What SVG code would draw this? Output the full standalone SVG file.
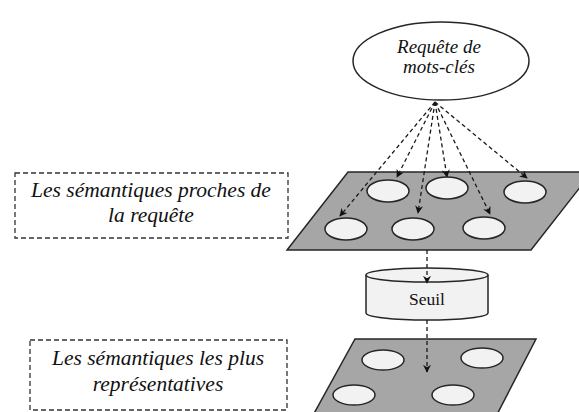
<svg xmlns="http://www.w3.org/2000/svg" width="579" height="412" viewBox="0 0 579 412">
<defs>
<style>
.plane{fill:#a6a6a6;stroke:#262626;stroke-width:1.5}
.spot{fill:#f2f2f2;stroke:#262626;stroke-width:1.5}
.lab{fill:#fff;stroke:#333;stroke-width:1.3;stroke-dasharray:5,3}
.conn{fill:none;stroke:#1a1a1a;stroke-width:1.3;stroke-dasharray:4,3}
.it{font-family:'Liberation Serif','Times New Roman','DejaVu Serif',serif;font-style:italic;fill:#111;text-anchor:middle}
.rg{font-family:'Liberation Serif','Times New Roman','DejaVu Serif',serif;fill:#111;text-anchor:middle}
</style>
<marker id="ah" viewBox="0 0 10 10" refX="9" refY="5" markerWidth="8" markerHeight="8" markerUnits="userSpaceOnUse" orient="auto">
<path d="M0,0 L10,5 L0,10 L3,5 z" fill="#111"/>
</marker>
</defs>
<rect width="579" height="412" fill="#fff"/>

<g id="query">
<ellipse cx="441" cy="61" rx="88" ry="39" fill="#fff" stroke="#262626" stroke-width="1.5"/>
<text class="it" x="439" y="53" font-size="19" font-family="Liberation Serif, serif">Requête de</text>
<text class="it" x="439" y="73" font-size="19" font-family="Liberation Serif, serif">mots-clés</text>
</g>

<g id="label-proches">
<rect class="lab" x="15" y="173" width="273" height="65"/>
<text class="it" x="151" y="197" font-size="21.5">Les sémantiques proches de</text>
<text class="it" x="151" y="222" font-size="21.5">la requête</text>
</g>

<g id="plane-proches">
<polygon class="plane" points="348,172 592,172 531,250 287,250"/>
<ellipse class="spot" cx="388" cy="191" rx="21" ry="11"/>
<ellipse class="spot" cx="447" cy="188" rx="21" ry="11"/>
<ellipse class="spot" cx="525" cy="192" rx="21" ry="11"/>
<ellipse class="spot" cx="346" cy="229" rx="21" ry="11"/>
<ellipse class="spot" cx="413" cy="229" rx="21" ry="11"/>
<ellipse class="spot" cx="484" cy="228" rx="21" ry="11"/>
</g>

<g id="seuil">
<path class="spot" d="M366,275 L366,313 A61,7 0 0 0 488,313 L488,275"/>
<ellipse class="spot" cx="427" cy="275" rx="61" ry="7"/>
<text class="rg" x="427" y="305" font-size="17.5">Seuil</text>
</g>

<g id="label-representatives">
<rect class="lab" x="30" y="340" width="257" height="70"/>
<text class="it" x="158" y="365" font-size="21.5">Les sémantiques les plus</text>
<text class="it" x="158" y="391" font-size="21.5">représentatives</text>
</g>

<g id="plane-representatives">
<polygon class="plane" points="355,339 536,339 490,428 306,428"/>
<ellipse class="spot" cx="383" cy="360" rx="21" ry="10"/>
<ellipse class="spot" cx="482" cy="358" rx="21" ry="10"/>
<ellipse class="spot" cx="354" cy="395" rx="21" ry="10"/>
<ellipse class="spot" cx="453" cy="395" rx="21" ry="10"/>
</g>

<g id="connectors">
<line class="conn" x1="435" y1="102" x2="340" y2="216" marker-end="url(#ah)"/>
<line class="conn" x1="435" y1="102" x2="397" y2="177" marker-end="url(#ah)"/>
<line class="conn" x1="435" y1="102" x2="418" y2="213" marker-end="url(#ah)"/>
<line class="conn" x1="435" y1="102" x2="447" y2="177" marker-end="url(#ah)"/>
<line class="conn" x1="435" y1="102" x2="490" y2="214" marker-end="url(#ah)"/>
<line class="conn" x1="435" y1="102" x2="527" y2="178" marker-end="url(#ah)"/>
<line class="conn" x1="427" y1="250" x2="427" y2="283" marker-end="url(#ah)"/>
<line class="conn" x1="427" y1="320" x2="427" y2="372" marker-end="url(#ah)"/>
</g>
</svg>
